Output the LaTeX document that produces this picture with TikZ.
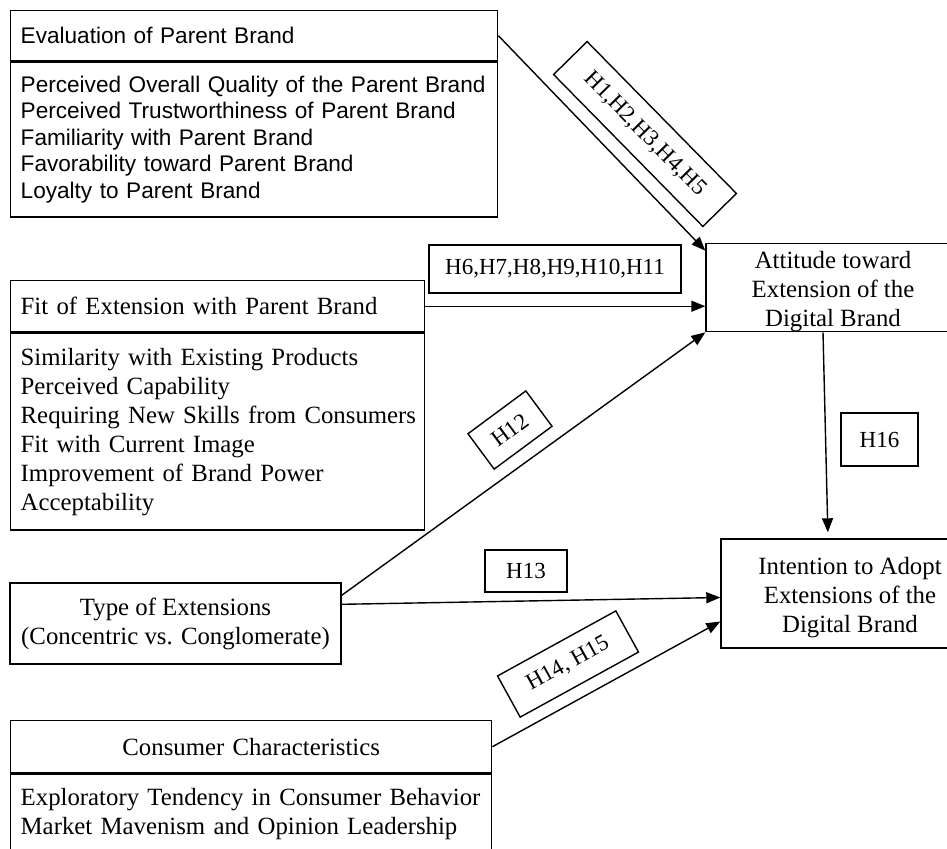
\documentclass[tikz,border=0pt]{standalone}
\usepackage{fontspec}
\setmainfont{Liberation Serif}
\newfontfamily\arialfont{Liberation Sans}
\usetikzlibrary{arrows.meta}

\begin{document}
\begin{tikzpicture}[x=0.5pt, y=-0.5pt,
    box/.style={draw, line width=0.7pt, inner sep=0pt, font=\fontsize{12.4}{14.5}\selectfont},
    sans/.style={font=\arialfont\fontsize{11.3}{13.25}\selectfont},
    hyp/.style={draw, line width=0.7pt, inner sep=0pt, font=\fontsize{11.5}{13}\selectfont},
    link/.style={->, line width=0.7pt},
    >={Triangle[length=7pt,width=5.5pt]}]
    \useasboundingbox (0,0) rectangle (947,848);
    \clip (0,0) rectangle (947,848);
    % left column
    \node (evalT) [box, sans, anchor=north west, text width=233.5pt, inner xsep=5pt, minimum height=25pt, align=left] at (10,10) {Evaluation of Parent Brand};
    \node (evalB) [box, sans, anchor=north west, text width=233.5pt, inner xsep=5pt, minimum height=77.5pt, align=left] at (evalT.south west) {\mbox{Perceived Overall Quality of the Parent Brand}\\
    Perceived Trustworthiness of Parent Brand\\ Familiarity with Parent Brand\\ Favorability toward Parent Brand\\ Loyalty to Parent Brand};
    \node (fitT) [box, anchor=north west, text width=197pt, inner xsep=5pt, minimum height=25.5pt, align=left] at (10,280) {Fit of Extension with Parent Brand};
    \node (fitB) [box, anchor=north west, text width=197pt, inner xsep=5pt, minimum height=98.5pt, align=left] at (fitT.south west) {Similarity with Existing Products\\ Perceived Capability\\
    \mbox{Requiring New Skills from Consumers}\\ Fit with Current Image\\ Improvement of Brand Power\\ Acceptability};
    \node (type) [box, minimum width=165.5pt, minimum height=40.5pt, align=center] at (175.5,623.5) {Type of Extensions\\ (Concentric vs. Conglomerate)};
    \node (consT) [box, anchor=north west, text width=230.5pt, inner xsep=5pt, minimum height=26pt, align=center] at (10,720) {Consumer Characteristics};
    \node (consB) [box, anchor=north west, text width=230.5pt, inner xsep=5pt, inner ysep=7pt, align=left] at (consT.south west) {\mbox{Exploratory Tendency in Consumer Behavior}\\
    Market Mavenism and Opinion Leadership};
    % right column
    \node (att) [box, minimum width=127pt, minimum height=43.5pt, align=center] at (833,287.5) {\rule{0pt}{12.5pt}Attitude toward\\ Extension of the\\ Digital Brand};
    \node (int) [box, minimum width=129pt, minimum height=54.5pt, align=center] at (850,593.5) {\rule{0pt}{12.5pt}Intention to Adopt\\ Extensions of the\\ Digital Brand};
    % hypotheses
    \node (h1) [hyp, rotate=-45.5, minimum width=106.5pt, minimum height=23.5pt] at (645,134) {H1,H2,H3,H4,H5};
    \node (h6) [hyp, minimum width=126pt, minimum height=24pt] at (555,269) {H6,H7,H8,H9,H10,H11};
    \node (h12) [hyp, rotate=36.5, minimum width=36pt, minimum height=22pt] at (510,430) {H12};
    \node (h13) [hyp, minimum width=41pt, minimum height=21pt] at (526,571) {H13};
    \node (h14) [hyp, rotate=28.8, minimum width=67.5pt, minimum height=23.5pt] at (568,664) {H14, H15};
    \node (h16) [hyp, minimum width=38.5pt, minimum height=26.5pt] at (879.5,439.5) {H16};
    \draw[link] (evalT.east) -- ([yshift=-4pt]att.north west);
    \draw[link] (fitT.east) -- (fitT.east -| att.west);
    \draw[link] ([yshift=-6.5pt]type.north east) -- (att.south west);
    \draw[link] ([yshift=-11pt]type.north east) -- ([yshift=-2pt]int.west);
    \draw[link] (consT.east) -- ([yshift=-14pt]int.west);
    \draw[link, shorten >=3pt] ([xshift=-5pt]att.south) -- ([xshift=-11pt]int.north);
\end{tikzpicture}
\end{document}
